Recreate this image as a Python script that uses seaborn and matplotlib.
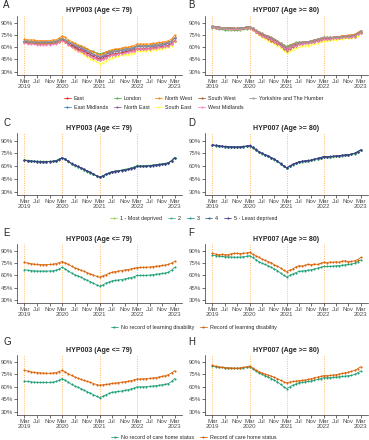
import numpy as np
import pandas as pd
import seaborn as sns
import matplotlib.pyplot as plt
from matplotlib.lines import Line2D

# monthly values (%), Mar 2019 .. Mar 2023
months = pd.date_range("2019-03-01", "2023-03-01", freq="MS")

regions = ["East", "East Midlands", "London", "North East", "North West",
           "South East", "South West", "West Midlands", "Yorkshire and The Humber"]

# HYP003 (age <= 79) by region
a_east = [66,66,65,65,65,65,65,65,65,65,66,67,69, 67,64,62,60,58,57,55,53,51,49,47,46,
          47,49,50,52,52,53,53,54,55,56,57,58, 58,58,59,59,59,60,60,61,61,62,65,68]
a_emid = [68,67,67,67,66,66,66,66,66,67,67,69,71, 69,66,64,62,60,59,57,55,53,51,49,48,
          49,51,53,54,55,55,56,57,57,58,59,61, 61,61,61,61,62,62,63,63,64,65,67,71]
a_lon = [68,67,67,67,66,66,66,66,66,67,67,69,71, 69,67,65,63,62,61,59,58,56,55,53,52,
         53,54,55,56,57,57,58,58,59,59,60,62, 62,62,62,62,63,63,64,64,65,66,68,72]
a_ne = [67,67,66,66,66,66,66,66,66,66,67,68,70, 68,66,64,62,60,59,57,55,53,51,49,48,
        49,51,53,55,55,56,56,57,58,58,60,61, 61,61,62,62,62,63,63,64,64,65,68,71]
a_nw = [70,69,69,69,68,68,68,68,68,69,69,71,74, 72,69,67,65,63,62,60,58,56,54,52,51,
        52,54,56,57,58,58,59,60,60,61,62,64, 64,64,64,64,65,65,66,66,67,68,70,75]
a_se = [66,65,65,65,64,64,64,64,64,65,65,67,69, 66,63,60,57,55,53,51,48,46,44,42,40,
        41,43,45,47,48,49,50,51,51,52,53,55, 55,55,56,56,57,57,58,58,59,60,62,67]
a_sw = [66,65,65,65,64,64,64,64,64,65,65,67,69, 67,64,61,59,57,55,53,51,49,47,45,44,
        45,47,49,51,51,52,53,54,54,55,56,58, 58,58,58,58,59,59,60,60,61,62,64,68]
a_wm = [65,64,64,64,63,63,63,63,63,64,64,66,68, 66,63,60,58,56,55,53,51,49,47,45,44,
        45,47,49,51,51,52,52,53,54,55,56,58, 58,58,58,58,59,59,60,60,61,61,64,68]
a_yh = [68,68,67,67,67,67,67,67,67,67,68,69,71, 69,67,65,63,61,60,58,56,54,52,50,49,
        50,52,54,55,56,56,57,58,58,59,60,62, 62,62,62,62,63,63,64,64,65,66,68,72]

# HYP007 (age >= 80) by region
b_east = [85,84,84,83,83,83,83,82,82,82,83,84,84, 82,79,76,74,72,71,69,67,65,63,59,57,
          59,61,63,64,65,65,66,66,67,68,69,70, 70,71,71,71,72,72,72,73,73,74,76,78]
b_emid = [86,85,84,84,83,83,83,83,83,83,84,84,85, 83,80,78,76,74,73,71,69,67,64,61,59,
          61,63,64,65,66,66,67,67,68,69,70,71, 71,72,72,72,73,73,73,74,74,75,77,79]
b_lon = [84,83,82,82,81,81,81,81,81,81,82,82,83, 81,79,77,75,74,73,71,69,67,65,63,61,
         63,64,66,66,66,66,67,67,68,69,70,71, 71,71,71,72,72,73,73,73,74,75,77,79]
b_ne = [86,85,85,84,84,84,84,83,83,84,84,85,85, 83,80,78,76,74,73,71,69,67,64,61,59,
        61,63,64,66,66,67,67,68,69,70,71,72, 72,72,72,73,73,74,74,74,75,75,78,80]
b_nw = [86,85,85,84,84,84,84,84,83,84,84,85,85, 83,81,79,77,75,74,72,70,68,65,62,60,
        62,64,65,66,66,67,67,68,69,70,71,72, 72,72,72,73,73,74,74,75,75,76,78,80]
b_se = [85,84,83,83,83,82,82,82,82,82,83,83,84, 81,78,75,72,70,68,66,64,62,59,56,53,
        55,57,59,60,61,62,62,63,64,65,66,68, 68,69,69,69,70,70,71,71,71,72,74,77]
b_sw = [85,84,84,83,83,83,83,82,82,83,83,84,84, 82,79,76,74,72,70,68,66,64,62,58,56,
        58,60,62,64,64,65,65,66,67,68,69,70, 70,70,71,71,71,72,72,72,73,73,76,78]
b_wm = [85,84,83,83,83,82,82,82,82,82,83,83,84, 81,79,76,74,72,71,69,67,65,62,59,57,
        59,61,62,64,64,65,65,66,67,68,69,70, 70,70,71,71,71,72,72,72,73,73,76,78]
b_yh = [86,85,85,84,84,84,84,83,83,84,84,85,85, 83,81,79,77,75,74,72,70,68,65,62,60,
        62,63,65,66,66,67,67,68,69,70,71,72, 72,72,72,72,73,73,74,74,74,75,77,80]

quintiles = ["1 - Most deprived", "2", "3", "4", "5 - Least deprived"]

# HYP003 by deprivation quintile
c_q1 = [67.6,66.9,66.3,65.9,65.7,65.6,65.5,65.5,65.6,65.8,66.6,68.1,70.1, 68.0,65.4,62.8,60.7,59.2,57.7,55.7,53.7,52.2,50.2,48.2,46.8,
        48.4,50.4,52.0,53.6,54.2,54.8,55.4,56.2,57.0,58.0,59.2,60.8, 60.7,60.6,60.7,60.9,61.3,61.8,62.2,62.7,63.2,64.2,66.6,70.2]
c_q2 = [67.2,66.6,66.1,65.8,65.6,65.5,65.4,65.4,65.5,65.7,66.5,68.0,70.0, 68.0,65.5,63.0,60.9,59.4,57.9,55.9,53.9,52.4,50.4,48.4,46.9,
        48.5,50.5,52.0,53.5,54.1,54.6,55.1,55.9,56.7,57.7,58.8,60.3, 60.2,60.2,60.4,60.6,61.1,61.6,62.1,62.6,63.1,64.1,66.5,70.1]
c_q3 = [67.0,66.5,66.0,65.7,65.5,65.4,65.4,65.4,65.5,65.7,66.5,68.0,70.0, 68.0,65.5,63.0,61.0,59.5,58.0,56.0,54.0,52.5,50.5,48.5,47.0,
        48.5,50.5,52.0,53.5,54.0,54.5,55.0,55.8,56.5,57.5,58.5,60.0, 60.0,60.0,60.2,60.5,61.0,61.5,62.0,62.5,63.0,64.0,66.5,70.0]
c_q4 = [66.9,66.4,65.9,65.6,65.4,65.3,65.3,65.3,65.4,65.6,66.4,67.9,69.9, 68.0,65.5,63.1,61.1,59.6,58.1,56.1,54.1,52.6,50.6,48.6,47.1,
        48.5,50.4,51.9,53.4,53.9,54.4,54.9,55.7,56.4,57.3,58.3,59.8, 59.9,59.9,60.1,60.4,60.9,61.4,61.9,62.4,62.9,63.9,66.4,69.9]
c_q5 = [66.7,66.3,65.8,65.5,65.3,65.2,65.2,65.2,65.3,65.5,66.3,67.8,69.8, 68.0,65.6,63.2,61.2,59.7,58.2,56.2,54.2,52.7,50.7,48.7,47.2,
        48.4,50.3,51.8,53.2,53.7,54.2,54.7,55.5,56.2,57.1,58.1,59.6, 59.7,59.7,59.9,60.2,60.7,61.2,61.7,62.2,62.7,63.7,66.3,69.8]

# HYP007 by deprivation quintile
d_q1 = [85.3,84.5,83.9,83.4,83.0,82.7,82.5,82.4,82.3,82.4,82.9,83.5,84.1, 81.8,79.3,76.8,74.8,73.2,71.7,69.7,67.7,65.7,62.7,59.7,57.7,
        59.8,61.8,63.3,64.8,65.3,65.8,66.3,66.8,67.8,68.8,69.8,70.8, 70.8,71.0,71.3,71.6,72.0,72.4,72.8,73.3,73.8,74.8,76.8,78.9]
d_q2 = [84.8,84.1,83.6,83.2,82.8,82.6,82.4,82.3,82.2,82.3,82.8,83.4,84.0, 81.9,79.4,76.9,74.9,73.4,71.9,69.9,67.9,65.9,62.9,59.9,57.9,
        59.9,61.9,63.4,64.9,65.4,65.9,66.4,66.9,67.9,68.9,69.9,70.9, 70.9,71.1,71.4,71.7,72.1,72.5,72.9,73.4,73.9,74.9,76.9,78.9]
d_q3 = [85.0,84.3,83.8,83.4,83.0,82.8,82.6,82.5,82.4,82.5,83.0,83.6,84.2, 82.0,79.5,77.0,75.0,73.5,72.0,70.0,68.0,66.0,63.0,60.0,58.0,
        60.0,62.0,63.5,65.0,65.5,66.0,66.5,67.0,68.0,69.0,70.0,71.0, 71.0,71.2,71.5,71.8,72.2,72.6,73.0,73.5,74.0,75.0,77.0,79.0]
d_q4 = [85.1,84.4,83.9,83.5,83.1,82.9,82.7,82.6,82.5,82.6,83.1,83.7,84.3, 82.1,79.6,77.1,75.1,73.6,72.1,70.1,68.1,66.1,63.1,60.1,58.1,
        60.1,62.1,63.6,65.1,65.6,66.1,66.6,67.1,68.1,69.1,70.1,71.1, 71.1,71.3,71.6,71.9,72.3,72.7,73.1,73.6,74.1,75.1,77.1,79.1]
d_q5 = [85.2,84.5,84.0,83.6,83.2,83.0,82.8,82.7,82.6,82.7,83.2,83.8,84.4, 82.2,79.7,77.2,75.2,73.7,72.2,70.2,68.2,66.2,63.2,60.2,58.2,
        60.2,62.2,63.7,65.2,65.7,66.2,66.7,67.2,68.2,69.2,70.2,71.2, 71.2,71.4,71.7,72.0,72.4,72.8,73.2,73.7,74.2,75.2,77.2,79.2]

ld_groups = ["No record of learning disability", "Record of learning disability"]
ch_groups = ["No record of care home status", "Record of care home status"]

hyp003_none = c_q3
hyp007_none = d_q3
e_ld = [76.0,75.2,74.5,74.0,73.6,73.4,73.3,73.3,73.5,73.8,74.6,75.8,77.0, 75.5,73.5,71.5,69.5,68.0,66.5,65.0,63.5,62.0,60.5,59.0,57.8,
        59.5,61.0,62.5,64.0,64.8,65.5,66.0,66.8,67.3,68.0,68.8,69.7, 69.8,69.9,70.1,70.4,70.8,71.3,71.8,72.3,72.8,73.6,75.2,77.2]
f_ld = [87.0,86.2,85.5,85.8,85.3,85.6,86.4,87.0,87.2,86.8,87.3,87.6,88.5, 86.0,84.0,82.5,80.0,78.5,77.0,75.5,73.0,71.5,69.0,66.5,64.8,
        66.5,68.0,70.5,72.0,71.5,72.5,73.8,73.0,74.0,73.5,75.0,76.2, 75.5,76.5,76.0,76.8,76.2,77.5,78.0,76.8,77.2,78.0,79.5,82.0]
g_ch = [80.0,79.0,78.2,77.6,77.2,76.9,76.7,76.5,76.4,76.6,77.3,78.5,80.0, 78.0,75.8,73.8,72.0,70.5,69.0,67.8,66.5,65.5,64.0,62.8,62.0,
        62.5,63.0,63.5,64.2,64.6,65.0,65.5,66.2,66.8,67.6,68.5,69.5, 69.6,69.7,69.9,70.2,70.7,71.3,72.0,72.7,73.5,74.8,76.8,79.5]
h_ch = [86.0,85.0,84.2,83.6,83.2,82.9,82.7,82.6,82.6,82.8,83.5,84.3,85.2, 82.8,80.5,78.5,76.8,75.5,74.2,73.0,71.5,70.0,68.0,66.0,65.0,
        65.8,66.5,67.0,67.5,67.8,68.3,69.0,70.0,71.0,71.8,72.6,73.5, 73.6,73.8,74.2,74.8,75.5,76.2,77.0,77.8,78.6,80.0,82.0,84.5]

sns.set_style("ticks")
plt.rcParams["font.family"] = ["Liberation Sans", "DejaVu Sans"]

pal_region = dict(zip(regions, sns.color_palette("Set1", 9)))
pal_quint = dict(zip(quintiles, sns.color_palette("viridis", 5)[::-1]))
pal_two = sns.color_palette("Dark2", 2)
pal_ld = dict(zip(ld_groups, pal_two))
pal_ch = dict(zip(ch_groups, pal_two))


def make_df(names, series):
    rows = []
    for n, s in zip(names, series):
        rows.append(pd.DataFrame({"date": months, "value": s, "group": n}))
    return pd.concat(rows, ignore_index=True)


tick_dates = [d for d in months if d.month in (3, 7, 11)]
tick_labels = [d.strftime("%b") + ("\n" + str(d.year) if d.month == 3 else "") for d in tick_dates]

W, H = 369, 440
fig = plt.figure(figsize=(W / 100, H / 100), dpi=100)


def panel(x0, x1, top, bottom, df, names, pal, title):
    ax = fig.add_axes([x0 / W, 1 - bottom / H, (x1 - x0) / W, (bottom - top) / H])
    for yr in [2019, 2020, 2021, 2022]:
        ax.axvline(pd.Timestamp(f"{yr}-03-01"), color="#FFA726", ls=(0, (1, 1.8)), lw=0.6, zorder=0)
    sns.lineplot(data=df, x="date", y="value", hue="group", hue_order=names, palette=pal,
                 marker="o", markersize=1.5, markeredgewidth=0, linewidth=0.55,
                 legend=False, ax=ax)
    ax.set_ylim(26, 98.5)
    ax.set_yticks([30, 45, 60, 75, 90])
    ax.set_yticklabels([f"{v}%" for v in [30, 45, 60, 75, 90]])
    ax.set_xlim(months[0] - pd.Timedelta(days=73), months[-1] + pd.Timedelta(days=73))
    ax.set_xticks(tick_dates)
    ax.set_xticklabels(tick_labels, linespacing=0.95)
    ax.set_xlabel("")
    ax.set_ylabel("")
    ax.set_title(title, fontsize=5, fontweight="bold", pad=2.5)
    for sp in ["top", "right"]:
        ax.spines[sp].set_visible(False)
    for sp in ["left", "bottom"]:
        ax.spines[sp].set_linewidth(0.5)
        ax.spines[sp].set_color("#333333")
    ax.tick_params(length=2, width=0.5, labelsize=4.4, labelcolor="#4D4D4D", pad=1, color="#333333")
    return ax


rows = [
    (15.8, 75, (regions, [a_east, a_emid, a_lon, a_ne, a_nw, a_se, a_sw, a_wm, a_yh]),
     (regions, [b_east, b_emid, b_lon, b_ne, b_nw, b_se, b_sw, b_wm, b_yh]), pal_region, 103, 5, ("A", "B"), 5),
    (133.5, 195, (quintiles, [c_q1, c_q2, c_q3, c_q4, c_q5]),
     (quintiles, [d_q1, d_q2, d_q3, d_q4, d_q5]), pal_quint, 218, 5, ("C", "D"), 123),
    (244, 303.3, (ld_groups, [hyp003_none, e_ld]),
     (ld_groups, [hyp007_none, f_ld]), pal_ld, 327.5, 2, ("E", "F"), 233),
    (355, 415, (ch_groups, [hyp003_none, g_ch]),
     (ch_groups, [hyp007_none, h_ch]), pal_ch, 437, 2, ("G", "H"), 342),
]

for top, bottom, left_data, right_data, pal, leg_y, ncol, letters, let_y in rows:
    panel(17, 182, top, bottom, make_df(*left_data), left_data[0], pal, "HYP003 (Age <= 79)")
    panel(205, 368, top, bottom, make_df(*right_data), right_data[0], pal, "HYP007 (Age >= 80)")
    fig.text(3 / W, 1 - let_y / H, letters[0], fontsize=7, va="center", ha="left")
    fig.text(188 / W, 1 - let_y / H, letters[1], fontsize=7, va="center", ha="left")
    handles = [Line2D([], [], color=pal[n], marker="o", markersize=1.5, markeredgewidth=0, lw=0.55)
               for n in left_data[0]]
    fig.legend(handles, left_data[0], loc="center", bbox_to_anchor=(0.525, 1 - leg_y / H),
               ncol=ncol, frameon=False, fontsize=3.9, handlelength=1.3, handletextpad=0.5,
               columnspacing=1.1, labelspacing=0.7, borderpad=0)

fig.savefig("out.png", dpi=100)
